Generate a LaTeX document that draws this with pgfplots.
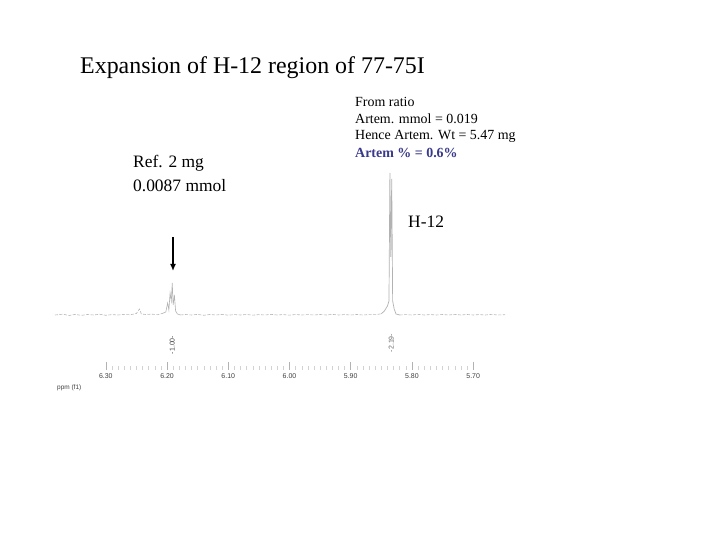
\documentclass[border=0pt]{standalone}
\usepackage{fontspec}
\setmainfont{Liberation Serif}
\setsansfont{Liberation Sans}
\usepackage{pgfplots}
\pgfplotsset{compat=1.18}
\usetikzlibrary{arrows.meta}
\definecolor{artemblue}{RGB}{58,58,140}

\begin{document}
\begin{tikzpicture}[x=1bp,y=1bp]
% page frame, 720 x 540 px
\fill[white] (0,0) rectangle (720,540);

\begin{axis}[
    at={(55bp,380bp)}, anchor=north west,
    width=450bp, height=210bp, scale only axis,
    x dir=reverse,
    xmin=5.648, xmax=6.383,
    ymin=-55, ymax=155,
    axis x line=bottom, axis y line=none,
    x axis line style={draw=none},
    xtick={5.7,5.8,5.9,6.0,6.1,6.2,6.3},
    minor x tick num=9,
    tick align=inside,
    major tick length=8bp, minor tick length=4bp,
    major tick style={gray!60, line width=0.5bp},
    minor tick style={gray!35, line width=0.4bp},
    xticklabel style={font=\sffamily\fontsize{7}{8}\selectfont, text=black!75,
        /pgf/number format/fixed, /pgf/number format/fixed zerofill,
        /pgf/number format/precision=2, /pgf/number format/assume math mode=true},
    clip=false,
]
% baseline noise
\addplot[gray!55, line width=0.6bp, dash pattern=on 3bp off 1.5bp] coordinates {
  (6.383,0) (6.37,0.8) (6.36,-0.5) (6.35,0.6) (6.34,-0.4) (6.33,0.5) (6.32,0)
  (6.31,0.7) (6.30,-0.3) (6.29,0.4) (6.28,0) (6.27,0.6) (6.26,0.2) (6.25,1.5)
  (6.245,6) (6.242,1) (6.235,0.5) (6.225,0.8) (6.215,0.3) (6.208,1.5)
};
% reference peak (6.19 ppm)
\addplot[gray!60, line width=0.6bp] coordinates {
  (6.208,1.5) (6.202,3) (6.199,12) (6.197,5) (6.195,22) (6.193,14) (6.1915,32)
  (6.190,10) (6.188,20) (6.186,4) (6.183,1) (6.178,0)
};
\addplot[gray!55, line width=0.6bp, dash pattern=on 3bp off 1.5bp] coordinates {
  (6.178,0) (6.17,0.5) (6.16,0) (6.15,0.6) (6.14,-0.3) (6.13,0.5) (6.12,0)
  (6.11,0.6) (6.10,-0.2) (6.09,0.4) (6.08,0) (6.07,0.5) (6.06,-0.2) (6.05,0.4)
  (6.04,0) (6.03,0.6) (6.02,0) (6.01,0.4) (6.00,-0.2) (5.99,0.5) (5.98,0)
  (5.97,0.4) (5.96,0) (5.95,0.5) (5.94,0) (5.93,0.6) (5.92,0) (5.91,0.4)
  (5.90,0) (5.89,0.5) (5.88,0) (5.87,0.4) (5.86,0.3) (5.85,1.2)
};
% H-12 doublet (5.83 ppm)
\addplot[gray!60, line width=0.7bp] coordinates {
  (5.85,1.2) (5.845,4) (5.840,9) (5.8375,14) (5.836,142) (5.8345,58)
  (5.833,136) (5.8315,14) (5.829,6) (5.826,1) (5.82,0)
};
\addplot[gray!55, line width=0.6bp, dash pattern=on 3bp off 1.5bp] coordinates {
  (5.82,0) (5.81,0.4) (5.80,0) (5.79,0.6) (5.78,0) (5.77,0.4) (5.76,0)
  (5.75,0.5) (5.74,0) (5.73,0.6) (5.72,0) (5.71,0.5) (5.70,0) (5.69,0.4)
  (5.68,0) (5.67,0.6) (5.66,0) (5.648,0.3)
};
% integrals
\node[rotate=90, font=\sffamily\fontsize{7}{7}\selectfont, text=black!75]
  at (axis cs:6.1915,-30) {-1.00-};
\node[rotate=90, font=\sffamily\fontsize{7}{7}\selectfont, text=black!60]
  at (axis cs:5.834,-28) {-2.19-};
\end{axis}

% axis unit
\node[anchor=west, inner sep=0, font=\sffamily\fontsize{6.5}{7}\selectfont, text=black!75]
  at (57,152) {ppm (f1)};

% title
\node[anchor=west, inner sep=0, font=\fontsize{24}{28}\selectfont] at (80,472) {Expansion of H-12 region of 77-75I};

% reference annotation and arrow
\node[anchor=west, inner sep=0, font=\fontsize{17.5}{20}\selectfont] at (133,377) {Ref. 2 mg};
\node[anchor=west, inner sep=0, font=\fontsize{17.5}{20}\selectfont] at (133,354) {0.0087 mmol};
\draw[line width=1.8bp, -{Latex[length=7bp,width=6bp]}] (173,303) -- (173,269);

% H-12 label
\node[anchor=west, inner sep=0, font=\fontsize{17.5}{20}\selectfont] at (408,318) {H-12};

% calculation block
\node[anchor=west, inner sep=0, font=\fontsize{14}{16}\selectfont] at (355,438) {From ratio};
\node[anchor=west, inner sep=0, font=\fontsize{14}{16}\selectfont] at (355,421) {Artem. mmol = 0.019};
\node[anchor=west, inner sep=0, font=\fontsize{14}{16}\selectfont] at (355,404) {Hence Artem. Wt = 5.47 mg};
\node[anchor=west, inner sep=0, font=\bfseries\fontsize{14}{16}\selectfont, text=artemblue] at (355,387) {Artem \% = 0.6\%};
\end{tikzpicture}
\end{document}
